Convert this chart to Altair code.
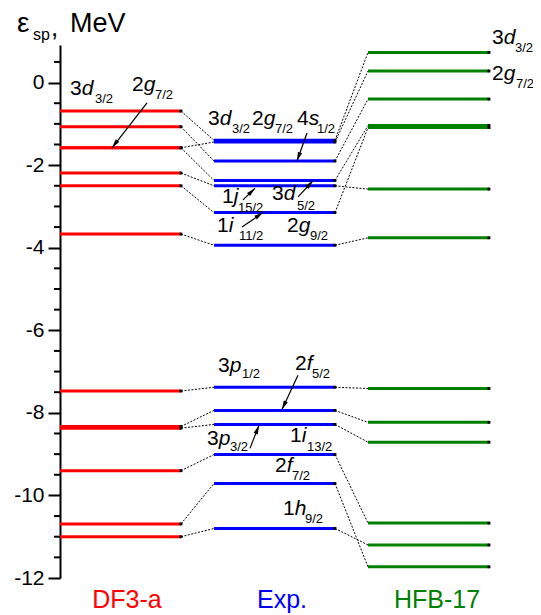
import math
import altair as alt
import pandas as pd

FONT = "Liberation Sans"

# ---- data: single-particle energies (MeV) ----
states = ["3d3/2", "2g7/2", "4s1/2", "3d5/2", "1j15/2", "1i11/2", "2g9/2",
          "3p1/2", "2f5/2", "3p3/2", "1i13/2", "2f7/2", "1h9/2"]
e_df3 = [-0.69, -1.58, -1.07, -1.58, -2.19, -2.50, -3.67,
         -7.47, -8.33, -8.37, -9.40, -10.69, -11.00]
e_exp = [-1.40, -1.44, -1.90, -2.37, -2.50, -3.15, -3.94,
         -7.38, -7.94, -8.28, -9.01, -9.71, -10.80]
e_hfb = [0.73, 0.28, -0.40, -1.04, -2.58, -1.09, -3.76,
         -7.41, -8.23, -8.71, -10.67, -11.73, -11.20]

models = ["DF3-a", "Exp.", "HFB-17"]
colors = ["#ff0000", "#0000ff", "#008000"]

y_major = [-12, -10, -8, -6, -4, -2, 0]
y_minor = [-11.5, -11, -10.5, -9.5, -9, -8.5, -7.5, -7, -6.5, -5.5, -5, -4.5,
           -3.5, -3, -2.5, -1.5, -1, -0.5, 0.5]

# ---- annotation text ----
lab_num = ["3", "2", "3", "2", "4", "3", "1", "1", "2",
           "3", "2", "3", "1", "2", "1", "3", "2"]
lab_let = ["d", "g", "d", "g", "s", "d", "j", "i", "g",
           "p", "f", "p", "i", "f", "h", "d", "g"]
lab_sub = ["3/2", "7/2", "3/2", "7/2", "1/2", "5/2", "15/2", "11/2", "9/2",
           "1/2", "5/2", "3/2", "13/2", "7/2", "9/2", "3/2", "7/2"]

# ---- layout (column placement and annotation anchors) ----
col_start = [0.0, 1.54, 3.08]
col_len = 1.21
lab_x = [0.10, 0.72, 1.48, 1.92, 2.37, 2.12, 1.62, 1.57, 2.27,
         1.58, 2.35, 1.47, 2.30, 2.15, 2.23, 4.32, 4.32]
lab_y = [-0.30, -0.20, -1.03, -1.03, -1.03, -2.84, -2.92, -3.62, -3.62,
         -7.01, -6.96, -8.78, -8.71, -9.44, -10.48, 0.93, 0.07]
sub_x = [0.35, 0.95, 1.72, 2.15, 2.57, 2.37, 1.78, 1.79, 2.50,
         1.82, 2.52, 1.70, 2.47, 2.32, 2.45, 4.55, 4.56]
sub_y = [-0.49, -0.40, -1.22, -1.22, -1.22, -3.09, -3.13, -3.81, -3.81,
         -7.16, -7.16, -8.93, -8.93, -9.63, -10.67, 0.74, -0.13]
arr_x1 = [0.87, 2.47, 2.38, 1.83, 1.82, 2.38, 1.90]
arr_y1 = [-0.49, -1.22, -2.77, -2.84, -3.50, -7.09, -8.86]
arr_x2 = [0.52, 2.37, 2.53, 1.95, 2.03, 2.22, 1.99]
arr_y2 = [-1.58, -1.90, -2.38, -2.56, -3.15, -7.92, -8.30]
bottom_x = [0.67, 2.22, 3.77]

W, H = 470, 533
XD = [0, 4.7]
YD = [-12, 0.91]
xs = alt.Scale(domain=XD, nice=False, zero=False)
ys = alt.Scale(domain=YD, nice=False, zero=False)
PX_X = W / (XD[1] - XD[0])
PX_Y = H / (YD[1] - YD[0])

energies = [e_df3, e_exp, e_hfb]
rows = []
for m, c, s0, es in zip(models, colors, col_start, energies):
    for st, e in zip(states, es):
        rows.append({"model": m, "c": c, "state": st, "x": s0, "x2": s0 + col_len, "e": e})
levels = pd.DataFrame(rows)

crow = []
for i in range(2):
    for ea, eb in zip(energies[i], energies[i + 1]):
        crow.append({"x": col_start[i] + col_len, "y": ea, "x2": col_start[i + 1], "y2": eb})
conn = pd.DataFrame(crow)

labels = pd.DataFrame({"num": lab_num, "let": lab_let, "sub": lab_sub,
                       "x": lab_x, "y": lab_y, "sx": sub_x, "sy": sub_y})

arrows = pd.DataFrame({"x1": arr_x1, "y1": arr_y1, "x2": arr_x2, "y2": arr_y2})
arrows["ang"] = [
    (math.degrees(math.atan2((b - a) * PX_X, (d - c) * PX_Y)) + 360) % 360
    for a, b, c, d in zip(arr_x1, arr_x2, arr_y1, arr_y2)
]

minor = pd.DataFrame({"t": y_minor})
bottom = pd.DataFrame({"t": models, "c": colors, "x": bottom_x})

level_layer = alt.Chart(levels).mark_rule(strokeWidth=3).encode(
    x=alt.X("x:Q", scale=xs, axis=None),
    x2="x2:Q",
    y=alt.Y("e:Q", scale=ys, title=None,
            axis=alt.Axis(values=y_major, title=None,
                          labelExpr="datum.value + ''")),
    color=alt.Color("c:N", scale=None),
)

dots = alt.Chart(levels).mark_square(size=8, color="black", opacity=1).encode(
    x=alt.X("x2:Q", scale=xs, axis=None),
    y=alt.Y("e:Q", scale=ys, title=None),
)

conn_layer = alt.Chart(conn).mark_rule(strokeWidth=1, strokeDash=[2, 1.5], color="black").encode(
    x=alt.X("x:Q", scale=xs, axis=None),
    y=alt.Y("y:Q", scale=ys, title=None),
    x2="x2:Q",
    y2="y2:Q",
)

minor_layer = alt.Chart(minor).mark_rule(strokeWidth=2, color="black").encode(
    y=alt.Y("t:Q", scale=ys, title=None),
    x=alt.value(-6),
    x2=alt.value(0),
)

num_layer = alt.Chart(labels).mark_text(
    align="left", baseline="alphabetic", fontSize=21, font=FONT, color="black"
).encode(
    x=alt.X("x:Q", scale=xs, axis=None),
    y=alt.Y("y:Q", scale=ys, title=None),
    text="num:N",
)
let_layer = alt.Chart(labels).mark_text(
    align="left", baseline="alphabetic", fontSize=21, font=FONT, fontStyle="italic",
    color="black", dx=11.7
).encode(
    x=alt.X("x:Q", scale=xs, axis=None),
    y=alt.Y("y:Q", scale=ys, title=None),
    text="let:N",
)
sub_layer = alt.Chart(labels).mark_text(
    align="left", baseline="alphabetic", fontSize=13, font=FONT, color="black"
).encode(
    x=alt.X("sx:Q", scale=xs, axis=None),
    y=alt.Y("sy:Q", scale=ys, title=None),
    text="sub:N",
)

shaft = alt.Chart(arrows).mark_rule(strokeWidth=1.2, color="black").encode(
    x=alt.X("x1:Q", scale=xs, axis=None),
    y=alt.Y("y1:Q", scale=ys, title=None),
    x2="x2:Q",
    y2="y2:Q",
)
head = alt.Chart(arrows).mark_point(
    shape="M0,0L-0.6,2.4L0.6,2.4Z", filled=True, size=56, color="black",
    opacity=1, strokeWidth=0
).encode(
    x=alt.X("x2:Q", scale=xs, axis=None),
    y=alt.Y("y2:Q", scale=ys, title=None),
    angle=alt.Angle("ang:Q", scale=None),
)

bottom_layer = alt.Chart(bottom).mark_text(
    align="center", baseline="alphabetic", fontSize=25, font=FONT
).encode(
    x=alt.X("x:Q", scale=xs, axis=None),
    y=alt.value(563),
    text="t:N",
    color=alt.Color("c:N", scale=None),
)

t_eps = alt.Chart(pd.DataFrame({"t": ["ε"]})).mark_text(
    align="left", baseline="alphabetic", fontSize=28, font=FONT, color="black"
).encode(x=alt.value(-43), y=alt.value(-13), text="t:N")
t_sp = alt.Chart(pd.DataFrame({"t": ["sp"]})).mark_text(
    align="left", baseline="alphabetic", fontSize=16, font=FONT, color="black"
).encode(x=alt.value(-27), y=alt.value(-5), text="t:N")
t_comma = alt.Chart(pd.DataFrame({"t": [","]})).mark_text(
    align="left", baseline="alphabetic", fontSize=26, font=FONT, color="black"
).encode(x=alt.value(-9), y=alt.value(-9), text="t:N")
t_mev = alt.Chart(pd.DataFrame({"t": ["MeV"]})).mark_text(
    align="left", baseline="alphabetic", fontSize=27, font=FONT, color="black"
).encode(x=alt.value(10), y=alt.value(-13), text="t:N")

chart = alt.layer(
    level_layer, conn_layer, dots, minor_layer,
    num_layer, let_layer, sub_layer, shaft, head,
    bottom_layer, t_eps, t_sp, t_comma, t_mev,
).properties(
    width=W, height=H,
    autosize=alt.AutoSizeParams(type="none"),
    padding={"left": 52, "top": 37, "right": 3, "bottom": 37},
).configure_view(
    strokeWidth=0
).configure_axisY(
    domainColor="black", domainWidth=2, tickColor="black", tickWidth=2,
    tickSize=12, labelFont=FONT, labelFontSize=21, labelColor="black",
    labelPadding=4, grid=False, title=None
)

chart.save("out.html", embed_options={"renderer": "svg", "actions": False})
